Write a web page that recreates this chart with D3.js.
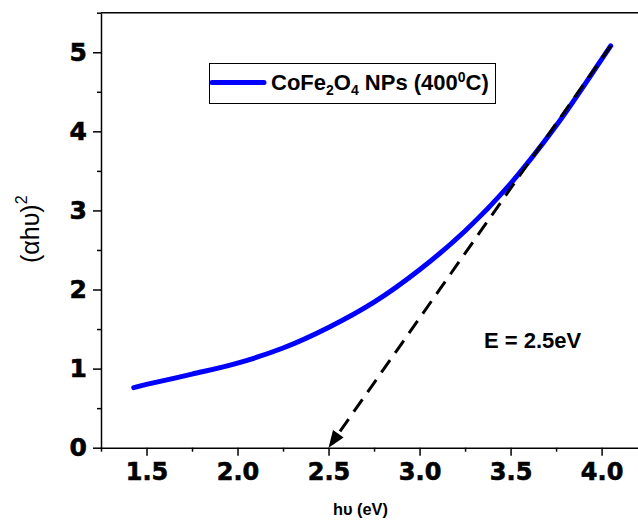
<!DOCTYPE html>
<html>
<head>
<meta charset="utf-8">
<script src="https://cdn.jsdelivr.net/npm/d3@7"></script>
<style>
  body { margin: 0; background: #fff; }
  svg { display: block; }
</style>
</head>
<body>
<script>
// Tauc plot data
var hv   = [1.43, 1.5, 1.75, 2.0, 2.25, 2.5, 2.75, 3.0, 3.25, 3.5, 3.75, 4.0, 4.05];
var ahv2 = [0.76, 0.80, 0.93, 1.07, 1.26, 1.52, 1.84, 2.25, 2.74, 3.34, 4.07, 4.91, 5.08];

// extrapolated linear part (tangent) : from top of curve down to the x-axis
var tangentX = [4.05, 2.50];
var tangentY = [5.08, 0];

var xMajor = [1.5, 2.0, 2.5, 3.0, 3.5, 4.0];
var xMinor = [1.25, 1.75, 2.25, 2.75, 3.25, 3.75];
var yMajor = [0, 1, 2, 3, 4, 5];
var yMinor = [0.5, 1.5, 2.5, 3.5, 4.5, 5.5];

var legendLabel = "CoFe";
var gapLabel = "E = 2.5eV";

var W = 638, H = 523;

var svg = d3.select("body").append("svg")
  .attr("width", W)
  .attr("height", H);

var x = d3.scaleLinear().domain([1.25, 4.2]).range([101, 638]);
var y = d3.scaleLinear().domain([0, 5.5]).range([447.7, 12.7]);

// frame top line
svg.append("line")
  .attr("x1", x(1.25)).attr("x2", x(4.2))
  .attr("y1", y(5.5)).attr("y2", y(5.5))
  .attr("stroke", "#000").attr("stroke-width", 1.5);

var tickFont = "'DejaVu Sans', sans-serif";

// x axis
var xAxis = svg.append("g")
  .attr("transform", "translate(0," + y(0) + ")")
  .call(d3.axisBottom(x).tickValues(xMajor).tickSize(8).tickSizeOuter(0).tickPadding(7)
    .tickFormat(d3.format(".1f")));
svg.append("g")
  .attr("transform", "translate(0," + y(0) + ")")
  .call(d3.axisBottom(x).tickValues(xMinor).tickSize(4).tickSizeOuter(0).tickFormat(""))
  .select(".domain").remove();

// y axis
var yAxis = svg.append("g")
  .attr("transform", "translate(" + x(1.25) + ",0)")
  .call(d3.axisLeft(y).tickValues(yMajor).tickSize(8).tickSizeOuter(0).tickPadding(6)
    .tickFormat(d3.format("d")));
svg.append("g")
  .attr("transform", "translate(" + x(1.25) + ",0)")
  .call(d3.axisLeft(y).tickValues(yMinor).tickSize(4).tickSizeOuter(0).tickFormat(""))
  .select(".domain").remove();

svg.selectAll(".domain").attr("stroke-width", 1.5);
svg.selectAll(".tick line").attr("stroke-width", 1.5);

xAxis.selectAll("text")
  .attr("font-family", tickFont).attr("font-weight", "bold")
  .attr("font-size", 24).attr("fill", "#000")
  .attr("stroke", "#000").attr("stroke-width", 0.6);
yAxis.selectAll("text")
  .attr("font-family", tickFont).attr("font-weight", "bold")
  .attr("font-size", 25).attr("fill", "#000")
  .attr("stroke", "#000").attr("stroke-width", 0.6);

// curve
var pts = hv.map(function(d, i) { return [d, ahv2[i]]; });
var line = d3.line()
  .x(function(d) { return x(d[0]); })
  .y(function(d) { return y(d[1]); })
  .curve(d3.curveCatmullRom.alpha(0.5));

svg.append("path")
  .datum(pts)
  .attr("d", line)
  .attr("fill", "none")
  .attr("stroke", "#0000ff")
  .attr("stroke-width", 5)
  .attr("stroke-linecap", "round");

// dashed tangent with arrow head at the x-intercept
var pTop = [x(tangentX[0]), y(tangentY[0])];
var pTip = [x(tangentX[1]), y(tangentY[1])];
var dx = pTop[0] - pTip[0], dy = pTop[1] - pTip[1];
var len = Math.sqrt(dx * dx + dy * dy);
var ux = dx / len, uy = dy / len;
var headLen = 17, headHalf = 6.5;
var base = [pTip[0] + ux * headLen, pTip[1] + uy * headLen];

svg.append("line")
  .attr("x1", pTop[0]).attr("y1", pTop[1])
  .attr("x2", base[0] + ux * 2).attr("y2", base[1] + uy * 2)
  .attr("stroke", "#000")
  .attr("stroke-width", 3)
  .attr("stroke-dasharray", "15,9");

svg.append("path")
  .attr("d", "M" + pTip[0] + "," + pTip[1] +
    "L" + (base[0] - uy * headHalf) + "," + (base[1] + ux * headHalf) +
    "L" + (base[0] + uy * headHalf) + "," + (base[1] - ux * headHalf) + "Z")
  .attr("fill", "#000");

// legend
var legend = svg.append("g");
legend.append("rect")
  .attr("x", 209.5).attr("y", 63.5)
  .attr("width", 286).attr("height", 40)
  .attr("fill", "#fff").attr("stroke", "#000").attr("stroke-width", 1);
legend.append("line")
  .attr("x1", 212).attr("x2", 264)
  .attr("y1", 82.5).attr("y2", 82.5)
  .attr("stroke", "#0000ff").attr("stroke-width", 5)
  .attr("stroke-linecap", "round");
var lt = legend.append("text")
  .attr("x", 271).attr("y", 90)
  .attr("font-family", "'Liberation Sans', Arial, sans-serif")
  .attr("font-weight", "bold").attr("font-size", 22);
lt.append("tspan").text(legendLabel);
lt.append("tspan").attr("font-size", 14).attr("dy", 5).text("2");
lt.append("tspan").attr("dy", -5).text("O");
lt.append("tspan").attr("font-size", 14).attr("dy", 5).text("4");
lt.append("tspan").attr("dy", -5).text(" NPs (400");
lt.append("tspan").attr("font-size", 14).attr("dy", -8).text("0");
lt.append("tspan").attr("dy", 8).text("C)");

// band gap annotation
svg.append("text")
  .attr("x", 484).attr("y", 348)
  .attr("font-family", "'Liberation Sans', Arial, sans-serif")
  .attr("font-weight", "bold").attr("font-size", 22)
  .text(gapLabel);

// axis titles
svg.append("text")
  .attr("x", 333).attr("y", 515)
  .attr("font-family", "'Liberation Sans', Arial, sans-serif")
  .attr("font-size", 16).attr("font-weight", "bold")
  .attr("textLength", 55).attr("lengthAdjust", "spacingAndGlyphs")
  .text("h\u03C5 (eV)");

var yt = svg.append("text")
  .attr("transform", "translate(38.5,263) rotate(-90)")
  .attr("font-family", "'Liberation Sans', Arial, sans-serif")
  .attr("font-size", 25);
yt.append("tspan").text("(\u03B1h\u03C5)");
yt.append("tspan").attr("font-size", 16).attr("dy", -12).text("2");
</script>
</body>
</html>
